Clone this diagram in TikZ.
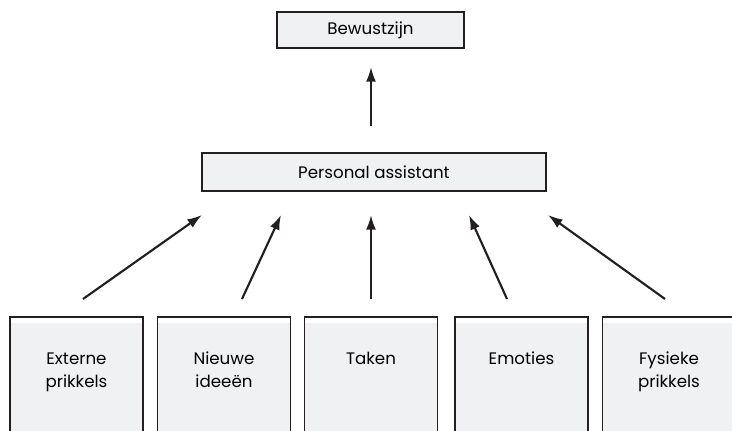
\documentclass[tikz,border=0pt]{standalone}
\usepackage{fontspec}
\setmainfont{Poppins}
\usetikzlibrary{calc,arrows.meta}
\definecolor{boxgray}{HTML}{F0F1F3}
\definecolor{ink}{HTML}{231F20}
\tikzset{
  topbox/.style={draw=ink, fill=boxgray, line width=1.5pt, inner sep=0pt},
  inbox/.style={draw=ink, line width=1.2pt, anchor=north, align=center,
    text width=90pt, minimum width=99.75pt, text height=9pt, text depth=110pt,
    inner ysep=27pt, font=\fontsize{12.5}{17.25}\selectfont,
    path picture={\fill[boxgray] ($(path picture bounding box.north west)+(0,-6)$)
      rectangle (path picture bounding box.south east);}},
  arr/.style={-{Latex[length=11pt,width=7.5pt]}, line width=1.6pt, draw=ink}
}
\begin{document}
\begin{tikzpicture}[x=0.75pt,y=0.75pt]
\useasboundingbox (0,0) rectangle (732,431);
\clip (0,0) rectangle (732,431);
% Top of the hierarchy
\node[topbox, minimum width=140.25pt, minimum height=27pt, font=\fontsize{12.5}{14}\selectfont] (bew) at (370.5,401) {Bewustzijn};
\node[topbox, minimum width=258pt, minimum height=28.5pt, font=\fontsize{12.5}{14}\selectfont] (pa) at (374,259) {Personal assistant};
\draw[arr] ($(pa.north)+(-3,26)$) -- ($(bew.south)+(0.5,-18)$);

% Input boxes (open at the bottom edge)
\foreach \x/\n/\t in {76.5/ext/{Externe\\prikkels}, 224/nie/{Nieuwe\\ideeën},
  371/tak/{Taken}, 521.5/emo/{Emoties}, 669/fys/{Fysieke\\prikkels}} {
  \node[inbox] (\n) at (\x,115) {\t};
}

% Arrows into the personal assistant
\draw[arr] ($(ext.north)+(6.5,17)$) -- ($(pa.south west)+(1,-23)$);
\draw[arr] ($(nie.north)+(18,17)$) -- ($(pa.south west)+(80,-23)$);
\draw[arr] ($(tak.north)+(0,17)$) -- ($(tak.north |- pa.south)+(0,-23)$);
\draw[arr] ($(emo.north)+(-14.5,17)$) -- ($(pa.south east)+(-78,-23)$);
\draw[arr] ($(fys.north)+(-4,17)$) -- ($(pa.south east)+(1,-23)$);
\end{tikzpicture}
\end{document}
